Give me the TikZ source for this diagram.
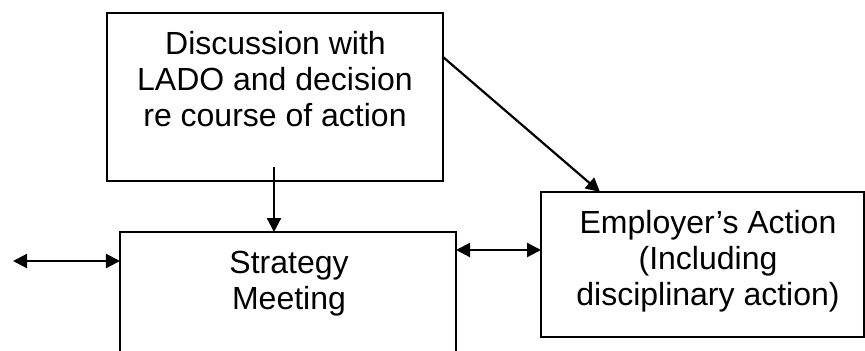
\documentclass[tikz,border=0pt]{standalone}
\usepackage{fontspec}
\setmainfont{Liberation Sans}
\usetikzlibrary{arrows.meta}
\begin{document}
\begin{tikzpicture}[x=1bp,y=-1bp,
  box/.style={draw,line width=1.8bp,inner sep=0,outer sep=0},
  lbl/.style={anchor=base,inner sep=0,font=\fontsize{32bp}{36bp}\selectfont},
  conn/.style={line width=2.2bp,-{Triangle[length=14bp,width=14bp]}},
  dconn/.style={line width=2.2bp,{Triangle[length=14bp,width=14bp]}-{Triangle[length=14bp,width=14bp]}}]
\useasboundingbox (0,0) rectangle (865,350);
\clip (0,0) rectangle (865,350);
% boxes
\node[box,minimum width=336bp,minimum height=168bp] (disc) at (275,97) {};
\node[box,minimum width=336bp,minimum height=168bp] (strat) at (288,316) {};
\node[box,minimum width=323bp,minimum height=145bp] (emp) at (702.5,264.5) {};
% texts
\node[lbl] (d1) at (275.5,54.5) {Discussion with};
\node[lbl] (d2) at (275,90.5) {LADO and decision};
\node[lbl] (d3) at (275,126) {re course of action};
\node[lbl] (s1) at (289,273) {Strategy};
\node[lbl] (s2) at (289,309.5) {Meeting};
\node[lbl] (e1) at (708,233) {Employer’s Action};
\node[lbl] (e2) at (708,269.5) {(Including};
\node[lbl] (e3) at (708,305) {disciplinary action)};
% connectors
\coordinate (vstart) at (274,167);
\draw[conn] (vstart) -- (vstart |- strat.north);
\coordinate (dstart) at (443,57);
\draw[conn] (dstart) -- ([xshift=59bp]emp.north west);
\coordinate (lend) at (13,261);
\draw[dconn] (lend) -- (lend -| strat.west);
\coordinate (mid) at (500,250);
\draw[dconn] (mid -| strat.east) -- (mid -| emp.west);
\end{tikzpicture}
\end{document}
